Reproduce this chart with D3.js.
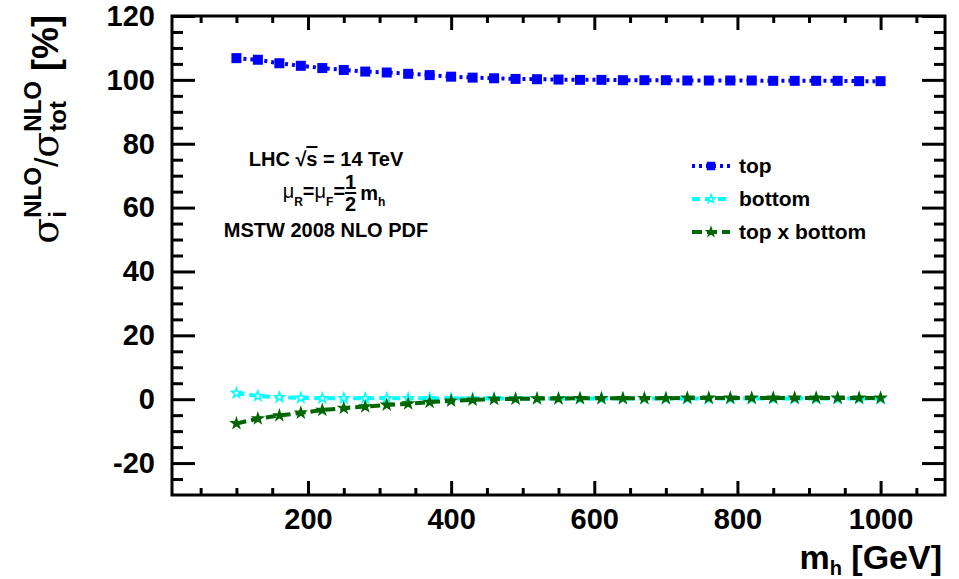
<!DOCTYPE html>
<html>
<head>
<meta charset="utf-8">
<script src="https://cdn.jsdelivr.net/npm/d3@7"></script>
<style>
body { margin: 0; background: #fff; }
text { font-family: "Liberation Sans", Arial, Helvetica, sans-serif; font-weight: bold; fill: #000; }
</style>
</head>
<body>
<div id="chart"></div>
<script>
// Higgs mass points (GeV)
var mh = [100, 130, 160, 190, 220, 250, 280, 310, 340, 370, 400, 430, 460, 490, 520, 550,
    580, 610, 640, 670, 700, 730, 760, 790, 820, 850, 880, 910, 940, 970, 1000];

// sigma_i / sigma_tot in percent
var topShare = [106.8, 106.3, 105.2, 104.4, 103.7, 103.1, 102.6, 102.3, 101.9, 101.5, 101.0,
    100.7, 100.5, 100.3, 100.2, 100.1, 100.0, 100.0, 99.9, 99.9, 99.9, 99.8, 99.8, 99.8,
    99.8, 99.7, 99.7, 99.7, 99.7, 99.6, 99.6];
var bottomShare = [1.9, 1.0, 0.6, 0.4, 0.3, 0.3, 0.3, 0.3, 0.3, 0.3, 0.2, 0.2, 0.2, 0.2, 0.2,
    0.2, 0.2, 0.2, 0.2, 0.2, 0.2, 0.2, 0.2, 0.2, 0.2, 0.2, 0.2, 0.2, 0.2, 0.2, 0.2];
var crossShare = [-7.6, -6.1, -5.1, -4.3, -3.4, -2.8, -2.3, -1.8, -1.4, -0.9, -0.5, -0.2, 0.0,
    0.1, 0.2, 0.2, 0.3, 0.3, 0.3, 0.3, 0.3, 0.4, 0.4, 0.4, 0.4, 0.4, 0.4, 0.4, 0.4, 0.4, 0.4];

var seriesNames = ["top", "bottom", "top x bottom"];

// tick labels
var xTicks = [200, 400, 600, 800, 1000];
var xMinor = [50, 100, 150, 250, 300, 350, 450, 500, 550, 650, 700, 750, 850, 900, 950, 1050];
var yTicks = [-20, 0, 20, 40, 60, 80, 100, 120];
var yMinor = [-25, -15, -10, -5, 5, 10, 15, 25, 30, 35, 45, 50, 55, 65, 70, 75, 85, 90, 95,
    105, 110, 115];

//SVG dimensions
var svgWidth = 959;
var svgHeight = 579;
var margin = { top: 16, right: 14, bottom: 84, left: 172 };
var width = svgWidth - margin.left - margin.right;
var height = svgHeight - margin.top - margin.bottom;

var svg = d3.select("#chart")
    .append("svg")
    .attr("width", svgWidth)
    .attr("height", svgHeight);

var chartGroup = svg.append("g")
    .attr("transform", `translate(${margin.left}, ${margin.top})`);

var x = d3.scaleLinear().domain([10, 1090]).range([0, width]);
var y = d3.scaleLinear().domain([-30, 120]).range([height, 0]);

var plainNumber = d => String(d);

//Axes: ticks point inwards like a ROOT frame
function styleAxis(g) {
    g.select(".domain").remove();
    g.selectAll("line").attr("stroke", "#000").attr("stroke-width", 3);
    g.selectAll("text").style("font-size", "29px");
}

chartGroup.append("g")
    .attr("transform", `translate(0, ${height})`)
    .call(d3.axisBottom(x).tickValues(xTicks).tickFormat(plainNumber)
        .tickSizeInner(-14).tickSizeOuter(0).tickPadding(13))
    .call(styleAxis);
chartGroup.append("g")
    .attr("transform", `translate(0, ${height})`)
    .call(d3.axisBottom(x).tickValues(xMinor).tickSizeInner(-7).tickSizeOuter(0).tickFormat(""))
    .call(styleAxis);
chartGroup.append("g")
    .call(d3.axisTop(x).tickValues(xTicks).tickSizeInner(-14).tickSizeOuter(0).tickFormat(""))
    .call(styleAxis);
chartGroup.append("g")
    .call(d3.axisTop(x).tickValues(xMinor).tickSizeInner(-7).tickSizeOuter(0).tickFormat(""))
    .call(styleAxis);

chartGroup.append("g")
    .call(d3.axisLeft(y).tickValues(yTicks).tickFormat(plainNumber)
        .tickSizeInner(-23).tickSizeOuter(0).tickPadding(17))
    .call(styleAxis);
chartGroup.append("g")
    .call(d3.axisLeft(y).tickValues(yMinor).tickSizeInner(-11).tickSizeOuter(0).tickFormat(""))
    .call(styleAxis);
chartGroup.append("g")
    .attr("transform", `translate(${width}, 0)`)
    .call(d3.axisRight(y).tickValues(yTicks).tickSizeInner(-23).tickSizeOuter(0).tickFormat(""))
    .call(styleAxis);
chartGroup.append("g")
    .attr("transform", `translate(${width}, 0)`)
    .call(d3.axisRight(y).tickValues(yMinor).tickSizeInner(-11).tickSizeOuter(0).tickFormat(""))
    .call(styleAxis);

//Frame
chartGroup.append("rect")
    .attr("width", width)
    .attr("height", height)
    .attr("fill", "none")
    .attr("stroke", "#000")
    .attr("stroke-width", 3);

//Series
var series = [
    { name: seriesNames[0], values: topShare, color: "#0000ff", dash: "3,4", marker: "square" },
    { name: seriesNames[1], values: bottomShare, color: "#00ffff", dash: "8,5", marker: "openStar" },
    { name: seriesNames[2], values: crossShare, color: "#006600", dash: "10,5", marker: "star" }
];

var line = d3.line()
    .x(d => x(d[0]))
    .y(d => y(d[1]));

var star = d3.symbol().type(d3.symbolStar).size(30);

function drawMarker(sel, s, scale) {
    var k = scale || 1;
    if (s.marker === "square") {
        sel.append("rect")
            .attr("x", -5 * k).attr("y", -5 * k)
            .attr("width", 10 * k).attr("height", 10 * k)
            .attr("fill", s.color);
    } else {
        sel.append("path")
            .attr("d", star.size(30 * k * k)())
            .attr("fill", s.marker === "star" ? s.color : "#fff")
            .attr("stroke", s.color)
            .attr("stroke-width", 1.5);
    }
}

series.forEach(s => {
    var pts = mh.map((m, i) => [m, s.values[i]]);
    chartGroup.append("path")
        .datum(pts)
        .attr("d", line)
        .attr("fill", "none")
        .attr("stroke", s.color)
        .attr("stroke-width", 4)
        .attr("stroke-dasharray", s.dash);
    chartGroup.selectAll(null)
        .data(pts)
        .enter()
        .append("g")
        .attr("transform", d => `translate(${x(d[0])}, ${y(d[1])})`)
        .each(function() { drawMarker(d3.select(this), s); });
});

//Legend
var legendY = [166, 199, 232];
series.forEach((s, i) => {
    var lg = svg.append("g").attr("transform", `translate(692, ${legendY[i]})`);
    lg.append("line")
        .attr("x1", 0).attr("x2", 38)
        .attr("stroke", s.color)
        .attr("stroke-width", 4)
        .attr("stroke-dasharray", s.dash);
    var mk = lg.append("g").attr("transform", "translate(19, 0)");
    drawMarker(mk, s, 0.85);
    lg.append("text")
        .attr("x", 47)
        .attr("y", 7)
        .style("font-size", "21px")
        .text(s.name);
});

//Annotation
var noteX = 326;
var lhc = svg.append("text")
    .attr("x", noteX).attr("y", 166)
    .attr("text-anchor", "middle")
    .style("font-size", "20px");
lhc.append("tspan").text("LHC \u221A");
lhc.append("tspan").style("text-decoration", "overline").text("s");
lhc.append("tspan").text(" = 14 TeV");
svg.append("text")
    .attr("x", noteX).attr("y", 237)
    .attr("text-anchor", "middle")
    .style("font-size", "20px")
    .text("MSTW 2008 NLO PDF");

// mu_R = mu_F = 1/2 m_h, built piece by piece
var muGroup = svg.append("g");
var cx = 0;
function piece(txt, size, dy, weight) {
    var t = muGroup.append("text")
        .attr("x", cx).attr("y", dy)
        .style("font-size", size + "px")
        .style("font-weight", weight || "bold")
        .text(txt);
    return t.node().getComputedTextLength();
}
cx += piece("\u03BC", 20, 0, "normal");
cx += piece("R", 12, 8);
cx += piece("=", 20, 0);
cx += piece("\u03BC", 20, 0, "normal");
cx += piece("F", 12, 8);
cx += piece("=", 20, 0);
var w1 = piece("1", 20, -9);
var w2 = piece("2", 20, 13);
muGroup.append("line")
    .attr("x1", cx).attr("x2", cx + Math.max(w1, w2))
    .attr("y1", -5).attr("y2", -5)
    .attr("stroke", "#000").attr("stroke-width", 2);
cx += Math.max(w1, w2) + 4;
cx += piece("m", 20, 2);
cx += piece("h", 12, 8);
muGroup.attr("transform", `translate(${noteX - cx / 2 + 8}, 198)`);

//x axis title
var xt = svg.append("text")
    .attr("x", 942).attr("y", 569)
    .attr("text-anchor", "end")
    .style("font-size", "34px");
xt.append("tspan").text("m");
xt.append("tspan").attr("dy", 6).style("font-size", "20px").text("h");
xt.append("tspan").attr("dy", -6).text("\u00A0[GeV]");

//y axis title, rotated, built piece by piece
var yt = svg.append("g");
var pos = 0;
function yPiece(txt, size, dy, weight, family) {
    var t = yt.append("text")
        .attr("x", pos).attr("y", dy)
        .style("font-size", size + "px")
        .style("font-weight", weight || "bold")
        .text(txt);
    if (family) t.style("font-family", family);
    return t.node().getComputedTextLength();
}
pos += yPiece("\u03C3", 38, 0, "normal", "DejaVu Serif");
pos += Math.max(yPiece("NLO", 24, -17), yPiece("i", 24, 8));
pos += yPiece("/", 34, 0, "normal");
pos += yPiece("\u03C3", 38, 0, "normal", "DejaVu Serif");
pos += Math.max(yPiece("NLO", 24, -17), yPiece("tot", 24, 8));
pos += yPiece("\u00A0[%]", 36, 0);
yt.attr("transform", `translate(58, ${15 + pos}) rotate(-90)`);
</script>
</body>
</html>
